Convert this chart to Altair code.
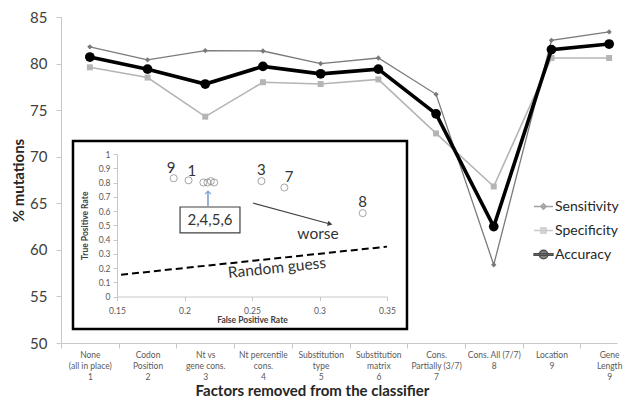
import json
import altair as alt
import pandas as pd

# ---------------- main chart data ----------------
positions = [1, 2, 3, 4, 5, 6, 7, 8, 9, 10]
category_labels = [
    ["None", "(all in place)", "1"],
    ["Codon", "Position", "2"],
    ["Nt vs", "gene cons.", "3"],
    ["Nt percentile", "cons.", "4"],
    ["Substitution", "type", "5"],
    ["Substitution", "matrix", "6"],
    ["Cons.", "Partially (3/7)", "7"],
    ["Cons. All (7/7)", "8"],
    ["Location", "9"],
    ["Gene", "Length", "9"],
]
sensitivity = [81.8, 80.4, 81.4, 81.35, 80.0, 80.6, 76.7, 58.4, 82.5, 83.4]
specificity = [79.6, 78.5, 74.3, 78.0, 77.8, 78.3, 72.5, 66.8, 80.6, 80.6]
accuracy = [80.7, 79.4, 77.8, 79.7, 78.9, 79.4, 74.6, 62.5, 81.5, 82.1]
series_names = ["Sensitivity", "Specificity", "Accuracy"]
y_ticks = [50, 55, 60, 65, 70, 75, 80, 85]
band_bounds = [0.5, 1.5, 2.5, 3.5, 4.5, 5.5, 6.5, 7.5, 8.5, 9.5]

# ---------------- inset (ROC) data ----------------
roc_id = ["9", "1", "2", "4", "5", "6", "3", "7", "8"]
roc_fpr = [0.192, 0.203, 0.214, 0.217, 0.2195, 0.222, 0.257, 0.274, 0.332]
roc_tpr = [0.83, 0.815, 0.80, 0.80, 0.81, 0.80, 0.81, 0.765, 0.585]
lbl_text = ["9", "1", "3", "7", "8"]
lbl_fpr = [0.190, 0.2055, 0.257, 0.2775, 0.332]
lbl_tpr = [0.905, 0.878, 0.885, 0.842, 0.665]
random_fpr = [0.153, 0.35]
random_tpr = [0.153, 0.35]
inset_x_ticks = [0.15, 0.2, 0.25, 0.3, 0.35]
inset_y_ticks = [0.0, 0.1, 0.2, 0.3, 0.4, 0.5, 0.6, 0.7, 0.8, 0.9, 1.0]

# ---------------- layout constants ----------------
W, H = 556, 326
BAND = 57.7
X_MAX = 0.5 + W / BAND
FONT = "Lato"

df = pd.DataFrame({
    "pos": positions * 3,
    "value": sensitivity + specificity + accuracy,
    "series": [s for s in series_names for _ in positions],
})

label_expr = "split(" + json.dumps(["|".join(l) for l in category_labels]) + "[round(datum.value - 0.5)], '|')"

x_main = alt.X("pos:Q",
    scale=alt.Scale(domain=[0.5, X_MAX], nice=False, zero=False),
    axis=alt.Axis(orient="bottom", values=band_bounds, labelExpr=label_expr,
                  labelOffset=BAND / 2, labelFlush=False, labelOverlap=False,
                  labelFontSize=8.5, labelColor="#595959", labelLineHeight=11,
                  labelBaseline="top", labelPadding=2, tickSize=5, tickColor="#c8c8c8",
                  domainColor="#c8c8c8", grid=False,
                  title="Factors removed from the classifier", titleFontSize=15,
                  titleFontWeight="bold", titleColor="#262626",
                  titleX=251, titleY=47, titleBaseline="middle"))
y_main = alt.Y("value:Q",
    scale=alt.Scale(domain=[50, 85], nice=False, zero=False),
    axis=alt.Axis(values=y_ticks, format="d", labelFontSize=15, labelColor="#404040",
                  domainColor="#c8c8c8", tickColor="#c8c8c8", tickSize=5, labelPadding=9,
                  grid=False, title="% mutations", titleFontSize=15, titleFontWeight="bold",
                  titleColor="#262626", titleX=-43, titleBaseline="middle"))

styles = {
    "Specificity": dict(color="#b5b5b5", width=1.6, shape="square", size=36),
    "Sensitivity": dict(color="#7a7a7a", width=1.3, shape="diamond", size=28),
    "Accuracy": dict(color="#000000", width=3.6, shape="circle", size=95),
}
main_layers = []
for name in ["Specificity", "Sensitivity", "Accuracy"]:
    st = styles[name]
    base = alt.Chart(df).transform_filter(alt.datum.series == name)
    main_layers.append(base.mark_line(color=st["color"], strokeWidth=st["width"]).encode(x=x_main, y=y_main))
    main_layers.append(base.mark_point(color=st["color"], filled=True, opacity=1,
                                       shape=st["shape"], size=st["size"]).encode(x=x_main, y=y_main))

# legend-only layer (empty data, explicit domain)
legend_shapes = [
    "M-1,0L1,0M0,-0.3L0.3,0L0,0.3L-0.3,0Z",
    "M-1,0L1,0M-0.28,-0.28L0.28,-0.28L0.28,0.28L-0.28,0.28Z",
    "M-1,-0.09L1,-0.09L1,0.09L-1,0.09ZM0.45,0A0.45,0.45,0,1,1,-0.45,0A0.45,0.45,0,1,1,0.45,0Z",
]
legend_colors = ["#7a7a7a", "#b5b5b5", "#000000"]
leg = alt.Legend(title=None, orient="none", legendX=472, legendY=179, padding=0,
                 labelFontSize=14, labelColor="#262626", symbolSize=361,
                 symbolStrokeWidth=1.3, rowPadding=6, labelOffset=1)
legend_layer = alt.Chart(df).transform_filter("false").mark_point(filled=True).encode(
    fill=alt.Fill("series:N", scale=alt.Scale(domain=series_names, range=legend_colors), legend=leg),
    stroke=alt.Stroke("series:N", scale=alt.Scale(domain=series_names, range=legend_colors), legend=leg),
    shape=alt.Shape("series:N", scale=alt.Scale(domain=series_names, range=legend_shapes), legend=leg),
)
main = alt.layer(*main_layers, legend_layer)

# ---------------- inset ----------------
xi_scale = alt.Scale(domain=[0.15, 0.35], range=[56, 326], nice=False, zero=False)
yi_scale = alt.Scale(domain=[0, 1], range=[279.5, 137], nice=False, zero=False)
xi_axis = alt.Axis(orient="bottom", offset=-46.5, values=inset_x_ticks, format=".2~f",
                   labelFontSize=8.5, labelColor="#595959", tickSize=4, tickColor="#c8c8c8",
                   domainColor="#c8c8c8", labelPadding=6, labelFlush=False, grid=False,
                   title="False Positive Rate", titleFontSize=8.5, titleFontWeight="bold",
                   titleColor="#404040", titlePadding=0, zindex=2)
yi_axis = alt.Axis(orient="left", offset=-56, values=inset_y_ticks, format=".1~f",
                   labelFontSize=8.5, labelColor="#595959", tickSize=4, tickColor="#c8c8c8",
                   domainColor="#c8c8c8", labelPadding=3, labelFlush=False, grid=False,
                   title="True Positive Rate", titleFontSize=8.5, titleFontWeight="bold",
                   titleColor="#404040", titlePadding=9, zindex=2)

def X(f):
    return alt.X(f"{f}:Q", scale=xi_scale, axis=xi_axis)

def Y(f):
    return alt.Y(f"{f}:Q", scale=yi_scale, axis=yi_axis)

box_df = pd.DataFrame({"fpr": [0.1174], "fpr2": [0.3648], "tpr": [1.091], "tpr2": [-0.228]})
box = alt.Chart(box_df).mark_rect(fill="white", stroke="black", strokeWidth=2.5).encode(
    x=X("fpr"), x2="fpr2", y=Y("tpr"), y2="tpr2")

roc_df = pd.DataFrame({"fpr": roc_fpr, "tpr": roc_tpr, "id": roc_id})
pts = alt.Chart(roc_df).mark_point(shape="circle", filled=False, color="#7f7f7f",
                                   size=50, strokeWidth=1).encode(x=X("fpr"), y=Y("tpr"))

lbl_df = pd.DataFrame({"fpr": lbl_fpr, "tpr": lbl_tpr, "t": lbl_text})
lbls = alt.Chart(lbl_df).mark_text(fontSize=15, color="#333333").encode(
    x=X("fpr"), y=Y("tpr"), text="t:N")

rand_df = pd.DataFrame({"fpr": random_fpr, "tpr": random_tpr})
rand_line = alt.Chart(rand_df).mark_line(color="black", strokeWidth=2, strokeDash=[7, 4]).encode(
    x=X("fpr"), y=Y("tpr"))

ann_df = pd.DataFrame({"fpr": [0.2685, 0.2989], "tpr": [0.2, 0.439],
                       "t": ["Random guess", "worse"], "a": [354, 0]})
ann = alt.Chart(ann_df).mark_text(fontSize=15.5, color="#333333").encode(
    x=X("fpr"), y=Y("tpr"), text="t:N", angle=alt.Angle("a:Q", scale=None))

gbox_df = pd.DataFrame({"fpr": [0.1967], "fpr2": [0.2411], "tpr": [0.628], "tpr2": [0.446]})
gbox = alt.Chart(gbox_df).mark_rect(fill="white", stroke="#404040", strokeWidth=1.2).encode(
    x=X("fpr"), x2="fpr2", y=Y("tpr"), y2="tpr2")
gtext_df = pd.DataFrame({"fpr": [0.2189], "tpr": [0.537], "t": ["2,4,5,6"]})
gtext = alt.Chart(gtext_df).mark_text(fontSize=15, color="#333333").encode(
    x=X("fpr"), y=Y("tpr"), text="t:N")

blue_df = pd.DataFrame({"fpr": [0.2174], "tpr": [0.635], "fpr2": [0.2174], "tpr2": [0.733]})
blue_line = alt.Chart(blue_df).mark_rule(color="#4f81bd", strokeWidth=1.2).encode(
    x=X("fpr"), y=Y("tpr"), x2="fpr2", y2="tpr2")
blue_head = alt.Chart(blue_df).mark_point(shape="M-1,0.7L0,-0.3L1,0.7", filled=False,
                                          color="#4f81bd", size=36, strokeWidth=1.2).encode(
    x=X("fpr2"), y=Y("tpr2"))

black_df = pd.DataFrame({"fpr": [0.2507], "tpr": [0.656], "fpr2": [0.3078], "tpr2": [0.509]})
black_line = alt.Chart(black_df).mark_rule(color="#404040", strokeWidth=1.2).encode(
    x=X("fpr"), y=Y("tpr"), x2="fpr2", y2="tpr2")
black_head = alt.Chart(black_df).mark_point(shape="triangle-right", filled=True, color="#404040",
                                            size=30, angle=15, opacity=1).encode(
    x=X("fpr2"), y=Y("tpr2"))

inset = alt.layer(box, rand_line, pts, lbls, ann, black_line, black_head,
                  blue_line, blue_head, gbox, gtext)

chart = alt.layer(main, inset).resolve_scale(x="independent", y="independent").properties(
    width=W, height=H, autosize="none",
    padding={"left": 53, "top": 9, "right": 6, "bottom": 55},
).configure(font=FONT).configure_view(stroke=None)

chart.save("out.html", embed_options={"renderer": "svg", "actions": False})
